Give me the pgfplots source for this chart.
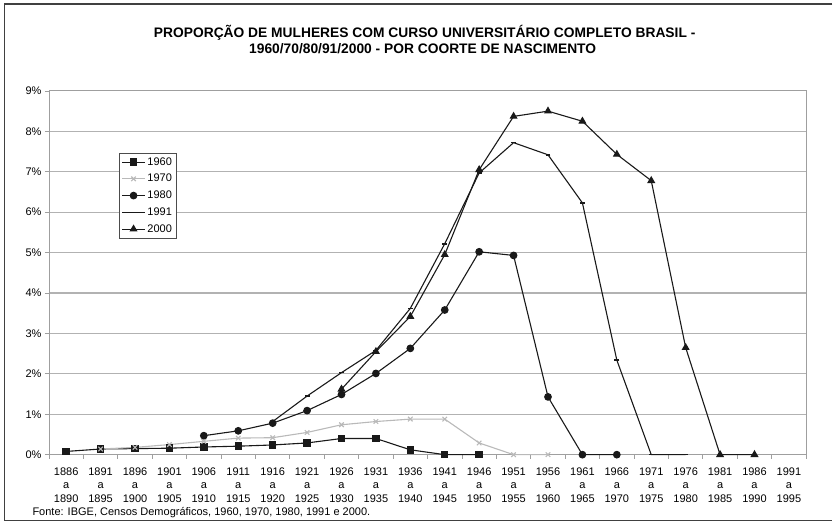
\documentclass[border=0pt]{standalone}
\usepackage{fontspec}
\setmainfont{Liberation Sans}
\usepackage{pgfplots}
\pgfplotsset{compat=1.18}

\begin{document}
\begin{tikzpicture}[x=1pt,y=1pt]
\path (0,0) rectangle (833,522);
\draw[line width=1.2pt, black!75] (833,518) -- (4.7,518) -- (4.7,1.3) -- (833,1.3);

\node[font=\bfseries\fontsize{13.8}{16}\selectfont, anchor=base] at (425,484)
  {PROPORÇÃO DE MULHERES COM CURSO UNIVERSITÁRIO COMPLETO BRASIL -};
\node[font=\bfseries\fontsize{13.8}{16}\selectfont, anchor=base] at (423,468)
  {1960/70/80/91/2000 - POR COORTE DE NASCIMENTO};

\begin{axis}[
  at={(49pt,67pt)}, anchor=south west,
  scale only axis, width=757.7pt, height=364pt,
  xmin=-0.5, xmax=21.5, ymin=0, ymax=9,
  clip=false,
  axis line style={gray!75, line width=0.9pt},
  ymajorgrids, grid style={gray!60, line width=1.1pt},
  ytick={0,...,9},
  yticklabel={\pgfmathprintnumber{\tick}\%},
  /pgf/number format/assume math mode=true,
  xtick={0,...,21},
  xticklabels={{1886\\a\\1890},{1891\\a\\1895},{1896\\a\\1900},{1901\\a\\1905},
    {1906\\a\\1910},{1911\\a\\1915},{1916\\a\\1920},{1921\\a\\1925},{1926\\a\\1930},
    {1931\\a\\1935},{1936\\a\\1940},{1941\\a\\1945},{1946\\a\\1950},{1951\\a\\1955},
    {1956\\a\\1960},{1961\\a\\1965},{1966\\a\\1970},{1971\\a\\1975},{1976\\a\\1980},
    {1981\\a\\1985},{1986\\a\\1990},{1991\\a\\1995}},
  minor xtick={-0.5,0.5,...,21.5},
  major x tick style={draw=none},
  minor tick length=4pt, major tick length=4pt,
  tick align=outside, xtick pos=bottom, ytick pos=left,
  tick style={gray!75, line width=0.8pt},
  xticklabel style={align=center, font=\fontsize{11}{13.6}\selectfont,
    inner ysep=0.5pt, yshift=-8pt},
  yticklabel style={font=\fontsize{11}{13}\selectfont},
  legend style={at={(0.0924,0.83)}, anchor=north west, draw=black!70,
    font=\fontsize{11}{12}\selectfont, row sep=3.6pt, inner sep=2.5pt},
  legend cell align=left,
  legend image code/.code={\draw[mark repeat=2,mark phase=2]
    plot coordinates {(0cm,0cm) (0.4cm,0cm) (0.8cm,0cm)};},
]
\addplot[black!90, line width=1.1pt, mark=square*, mark size=3.2pt] coordinates {
  (0,0.08) (1,0.14) (2,0.15) (3,0.16) (4,0.19) (5,0.21) (6,0.24) (7,0.29)
  (8,0.40) (9,0.40) (10,0.12) (11,0.0) (12,0.0)};
\addlegendentry{1960}
\addplot[gray!55, line width=1.1pt, mark=x, mark size=3.2pt] coordinates {
  (1,0.14) (2,0.18) (3,0.25) (4,0.33) (5,0.41) (6,0.42) (7,0.55) (8,0.74)
  (9,0.82) (10,0.88) (11,0.88) (12,0.29) (13,0.0) (14,0.0)};
\addlegendentry{1970}
\addplot[black!90, line width=1.1pt, mark=*, mark size=3.3pt] coordinates {
  (4,0.47) (5,0.59) (6,0.78) (7,1.09) (8,1.49) (9,2.01) (10,2.63) (11,3.58)
  (12,5.02) (13,4.93) (14,1.43) (15,0.0) (16,0.0)};
\addlegendentry{1980}
\addplot[black!90, line width=1.1pt, mark=-, mark size=2.5pt, mark options={line width=1.6pt}] coordinates {
  (6,0.82) (7,1.45) (8,2.03) (9,2.58) (10,3.62) (11,5.22) (12,6.97) (13,7.72)
  (14,7.42) (15,6.23) (16,2.34) (17,0.0) (18,0.0)};
\addlegendentry{1991}
\addplot[black!90, line width=1.1pt, mark=triangle*, mark size=3.6pt] coordinates {
  (8,1.62) (9,2.55) (10,3.42) (11,4.95) (12,7.05) (13,8.37) (14,8.50) (15,8.25)
  (16,7.43) (17,6.78) (18,2.65) (19,0.0) (20,0.0)};
\addlegendentry{2000}
\end{axis}

\node[font=\fontsize{11}{13}\selectfont, anchor=base west, inner ysep=1pt] at (29,6)
  {Fonte: IBGE, Censos Demográficos, 1960, 1970, 1980, 1991 e 2000.};
\end{tikzpicture}
\end{document}
